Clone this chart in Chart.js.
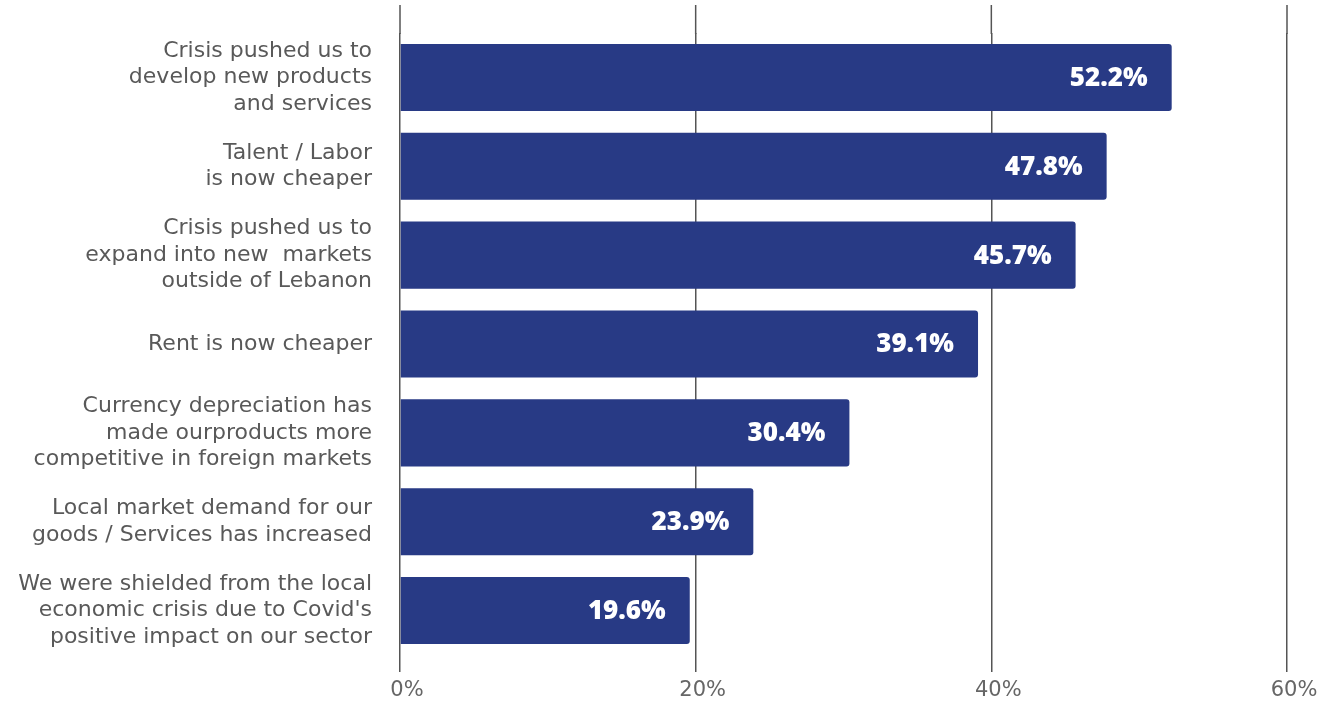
<!DOCTYPE html>
<html>
<head>
<meta charset="utf-8">
<script src="https://cdn.jsdelivr.net/npm/chart.js@4/dist/chart.umd.min.js"></script>
<style>
  html, body { margin: 0; padding: 0; background: #fff; }
  #wrap { width: 1330px; height: 710px; }
</style>
</head>
<body>
<div id="wrap"><canvas id="reasonsChart"></canvas></div>
<script>
const categories = [
    ['Crisis pushed us to', 'develop new products', 'and services'],
    ['Talent / Labor', 'is now cheaper'],
    ['Crisis pushed us to', 'expand into new  markets', 'outside of Lebanon'],
    'Rent is now cheaper',
    ['Currency depreciation has', 'made ourproducts more', 'competitive in foreign markets'],
    ['Local market demand for our', 'goods / Services has increased'],
    ['We were shielded from the local', "economic crisis due to Covid's", 'positive impact on our sector']
];
const shares = [52.2, 47.8, 45.7, 39.1, 30.4, 23.9, 19.6];
const xTicks = [0, 20, 40, 60];

const BAR = '#283a85';
const GRID = '#555555';
const FONT = "'DejaVu Sans', sans-serif";
const VALUE_FONT = "'Open Sans', sans-serif";

// gridlines run a bit above the first bar, so draw that part by hand
const topGrid = {
    id: 'topGrid',
    beforeDatasetsDraw(chart) {
        const { ctx, chartArea, scales: { x } } = chart;
        ctx.save();
        ctx.strokeStyle = GRID;
        ctx.lineWidth = 1.5;
        xTicks.forEach(v => {
            const px = x.getPixelForValue(v);
            ctx.beginPath();
            ctx.moveTo(px, 5);
            ctx.lineTo(px, chartArea.top + 1);
            ctx.stroke();
        });
        ctx.restore();
    }
};

// white percentage inside the end of each bar
const barValues = {
    id: 'barValues',
    afterDatasetsDraw(chart) {
        const { ctx } = chart;
        const meta = chart.getDatasetMeta(0);
        ctx.save();
        ctx.fillStyle = '#ffffff';
        ctx.font = `800 26px ${VALUE_FONT}`;
        ctx.textAlign = 'right';
        ctx.textBaseline = 'middle';
        meta.data.forEach((bar, i) => {
            ctx.fillText(shares[i].toFixed(1) + '%', bar.x - 24, bar.y + 1);
        });
        ctx.restore();
    }
};

new Chart(document.getElementById('reasonsChart'), {
    type: 'bar',
    data: {
        labels: categories,
        datasets: [{
            data: shares,
            backgroundColor: BAR,
            borderRadius: 3,
            borderSkipped: 'start',
            barPercentage: 0.755,
            categoryPercentage: 1
        }]
    },
    options: {
        indexAxis: 'y',
        responsive: true,
        maintainAspectRatio: false,
        animation: false,
        layout: { padding: { top: 33, right: 43, left: 0, bottom: 0 } },
        plugins: {
            legend: { display: false },
            tooltip: { enabled: false }
        },
        scales: {
            x: {
                min: 0,
                max: 60,
                afterBuildTicks(scale) {
                    scale.ticks = xTicks.map(v => ({ value: v }));
                },
                afterFit(scale) {
                    scale.height = 55;
                    scale.paddingLeft = 0;
                    scale.paddingRight = 0;
                },
                grid: {
                    color: GRID,
                    lineWidth: 1.5,
                    drawTicks: true,
                    tickLength: 17
                },
                border: { display: false },
                ticks: {
                    color: '#666666',
                    font: { family: FONT, size: 21 },
                    padding: 6,
                    labelOffset: 7,
                    callback: v => v + '%'
                }
            },
            y: {
                afterFit(scale) {
                    scale.width = 400;
                    scale.paddingTop = 0;
                    scale.paddingBottom = 0;
                },
                grid: { display: false },
                border: { display: false },
                ticks: {
                    color: '#595959',
                    font: { family: FONT, size: 22, lineHeight: 1.2 },
                    padding: 20,
                    autoSkip: false
                }
            }
        }
    },
    plugins: [topGrid, barValues]
});
</script>
</body>
</html>
